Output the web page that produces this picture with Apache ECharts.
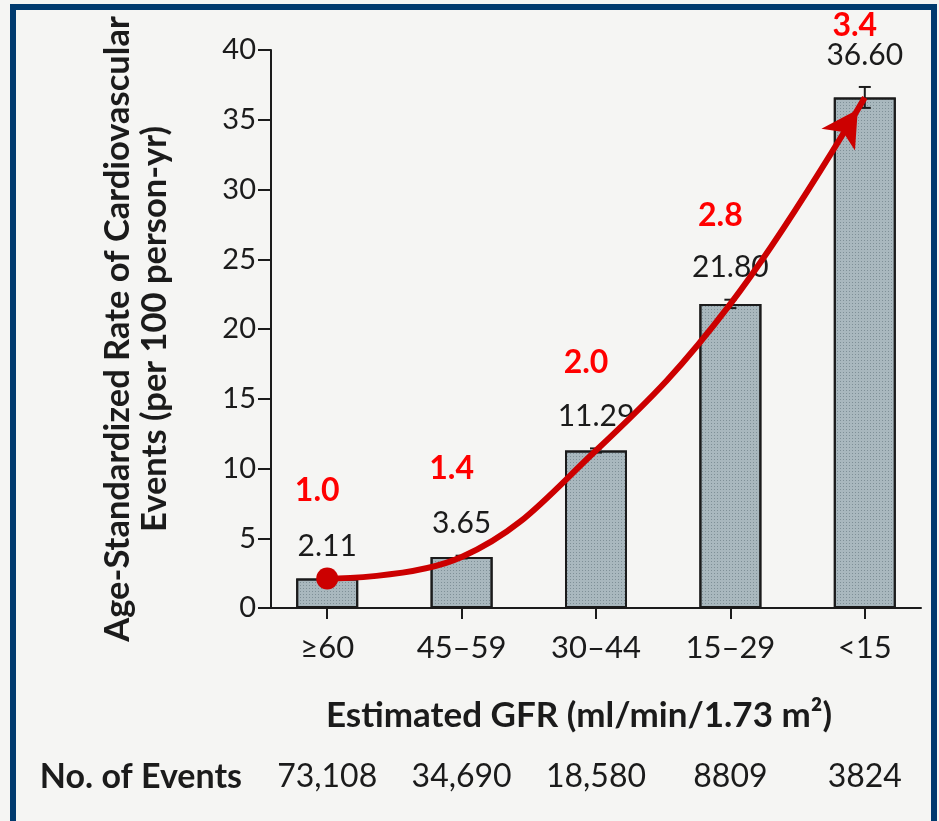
<!DOCTYPE html>
<html>
<head>
<meta charset="utf-8">
<script src="https://cdn.jsdelivr.net/npm/echarts@6/dist/echarts.min.js"></script>
<style>
  html, body { margin: 0; padding: 0; background: #fff; }
  #chart { width: 939px; height: 821px; }
</style>
</head>
<body>
<div id="chart"></div>
<script>
const categories = ["≥60", "45–59", "30–44", "15–29", "<15"];
const rates = [2.11, 3.65, 11.29, 21.80, 36.60];
const rateErrors = [0.05, 0.1, 0.15, 0.3, 0.75];
const hazardRatios = ["1.0", "1.4", "2.0", "2.8", "3.4"];
const eventCounts = ["73,108", "34,690", "18,580", "8809", "3824"];
const yTicks = { min: 0, max: 40, interval: 5 };

const ink = "#1b1b1b";
const red = "#cc0000";
const numFont = "Lato";

const chart = echarts.init(document.getElementById("chart"));

// red curve: circle at the first bar, arrow at the last
const curveData = rates.map((v, i) => {
  if (i === 0) return { value: v, symbol: "circle", symbolSize: 22 };
  if (i === rates.length - 1)
    return { value: v, symbol: "arrow", symbolSize: [30, 36], symbolRotate: -33, symbolOffset: [-7, 12] };
  return { value: v, symbol: "none" };
});

const option = {
  backgroundColor: "#f5f5f3",
  animation: false,
  grid: [
    { left: 260, right: 7, top: 50, bottom: 213 },
    { left: 271, right: 18, top: 50, bottom: 213 },
  ],
  xAxis: [
    {
      type: "category",
      gridIndex: 0,
      data: categories,
      axisLine: { show: false },
      axisTick: { show: true, alignWithLabel: true, length: 11, lineStyle: { color: ink, width: 2 } },
      axisLabel: { color: ink, fontFamily: numFont, fontSize: 31, margin: 24 },
      name: "Estimated GFR (ml/min/1.73 m²)",
      nameLocation: "middle",
      nameGap: 90,
      nameTextStyle: { color: ink, fontFamily: "Lato", fontWeight: "bold", fontSize: 35, padding: [0, 34, 0, 0] },
    },
    {
      type: "category",
      gridIndex: 0,
      position: "bottom",
      offset: 169,
      data: eventCounts,
      axisLine: { show: false },
      axisTick: { show: false },
      axisLabel: { color: ink, fontFamily: numFont, fontSize: 32, margin: 0, verticalAlign: "middle" },
      name: "No. of Events",
      nameLocation: "start",
      nameGap: 18,
      nameTextStyle: { color: ink, fontFamily: "Lato", fontWeight: "bold", fontSize: 34, verticalAlign: "middle" },
    },
    {
      type: "value",
      gridIndex: 1,
      min: 0,
      max: 1,
      axisLine: { show: true, lineStyle: { color: ink, width: 2 } },
      axisTick: { show: false },
      axisLabel: { show: false },
      splitLine: { show: false },
    },
  ],
  yAxis: [
    { type: "value", gridIndex: 0, show: false, min: yTicks.min, max: yTicks.max },
    {
      type: "value",
      gridIndex: 1,
      min: yTicks.min,
      max: yTicks.max,
      interval: yTicks.interval,
      axisLine: { show: true, lineStyle: { color: ink, width: 2 } },
      axisTick: { show: true, length: 13, lineStyle: { color: ink, width: 2 } },
      axisLabel: { color: ink, fontFamily: numFont, fontSize: 29, margin: 15 },
      splitLine: { show: false },
      name: "Age-Standardized Rate of Cardiovascular\nEvents (per 100 person-yr)",
      nameLocation: "middle",
      nameRotate: 90,
      nameGap: 98,
      nameTextStyle: { color: ink, fontFamily: "Lato", fontWeight: "bold", fontSize: 34.5, lineHeight: 37 },
    },
  ],
  graphic: [
    {
      type: "rect",
      shape: { x: 13, y: 7, width: 921, height: 840 },
      style: { fill: null, stroke: "#003a6e", lineWidth: 6 },
      z: 100,
    },
  ],
  series: [
    {
      type: "bar",
      xAxisIndex: 0,
      yAxisIndex: 0,
      data: rates,
      barWidth: 62,
      itemStyle: {
        color: "#a9b8be",
        borderColor: ink,
        borderWidth: 2,
        decal: {
          symbol: "rect",
          symbolSize: 1,
          dashArrayX: [1, 2],
          dashArrayY: [1, 2],
          color: "rgba(50, 70, 80, 0.35)",
        },
      },
      z: 2,
    },
    {
      type: "custom",
      xAxisIndex: 0,
      yAxisIndex: 0,
      clip: false,
      data: rates.map((v, i) => [i, v, rateErrors[i]]),
      renderItem: (params, api) => {
        const i = api.value(0);
        const v = api.value(1);
        const e = api.value(2);
        const mid = api.coord([i, v]);
        const hi = api.coord([i, v + e]);
        const lo = api.coord([i, v - e]);
        const cap = 6;
        const lineStyle = { stroke: ink, lineWidth: 2 };
        return {
          type: "group",
          children: [
            { type: "line", shape: { x1: hi[0], y1: hi[1], x2: lo[0], y2: lo[1] }, style: lineStyle },
            { type: "line", shape: { x1: hi[0] - cap, y1: hi[1], x2: hi[0] + cap, y2: hi[1] }, style: lineStyle },
            { type: "line", shape: { x1: lo[0] - cap, y1: lo[1], x2: lo[0] + cap, y2: lo[1] }, style: lineStyle },
            {
              type: "text",
              x: hi[0],
              y: hi[1] - 17,
              style: {
                text: rates[i].toFixed(2),
                fill: ink,
                font: `30px ${numFont}`,
                align: "center",
                verticalAlign: "bottom",
              },
            },
            {
              // ratio label sits above the bar, kept inside the frame
              type: "text",
              x: mid[0] - 10,
              y: Math.max(mid[1] - 88, 26),
              style: {
                text: hazardRatios[i],
                fill: "#ff0000",
                font: "bold 32px Lato",
                align: "center",
                verticalAlign: "middle",
              },
            },
          ],
        };
      },
      z: 4,
    },
    {
      type: "line",
      xAxisIndex: 0,
      yAxisIndex: 0,
      data: curveData,
      smooth: 0.4,
      lineStyle: { color: red, width: 6 },
      itemStyle: { color: red },
      z: 5,
    },
  ],
};

chart.setOption(option);
window.addEventListener("resize", () => chart.resize());
</script>
</body>
</html>
